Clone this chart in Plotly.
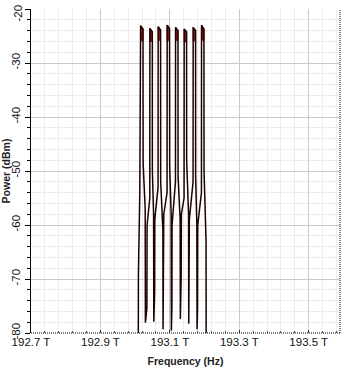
import plotly.graph_objects as go

# ---- data ----
freq_thz = [
    193.0088, 193.0094, 193.0134,
    193.0157, 193.0191, 193.0226,
    193.0229, 193.0289, 193.0295, 193.0338, 193.0344, 193.0422,
    193.0424, 193.0459, 193.0494,
    193.0496, 193.0531, 193.0537, 193.0560, 193.0565, 193.0660,
    193.0663, 193.0698, 193.0732,
    193.0735, 193.0799, 193.0804, 193.0819, 193.0824, 193.0919,
    193.0922, 193.0957, 193.0991,
    193.0994, 193.1037, 193.1043, 193.1058, 193.1063, 193.1161,
    193.1164, 193.1199, 193.1233,
    193.1236, 193.1296, 193.1302, 193.1325, 193.1331, 193.1409,
    193.1412, 193.1446, 193.1481,
    193.1483, 193.1538, 193.1544, 193.1555, 193.1561, 193.1668,
    193.1671, 193.1705, 193.1740,
    193.1742, 193.1777, 193.1783, 193.1797, 193.1803, 193.1909,
    193.1912, 193.1947, 193.1981,
    193.1984, 193.2042, 193.2047,
]
power_dbm = [
    -95, -69, -54,
    -23.1, -23.4, -23.7,
    -48.5, -57, -78.1, -75.5, -60, -55,
    -23.6, -23.9, -24.2,
    -50, -58, -77.9, -72.5, -59, -53,
    -23.3, -23.6, -23.9,
    -52, -61, -79.3, -70.5, -58, -54,
    -23.0, -23.3, -23.7,
    -49, -58, -79.6, -75.5, -60, -52,
    -23.4, -23.7, -24.0,
    -51, -59, -77.4, -69.6, -58, -55,
    -23.7, -23.9, -24.2,
    -48, -58, -78.3, -71, -59, -52,
    -23.4, -23.7, -24.0,
    -51, -60, -79.3, -75.5, -60, -54,
    -23.0, -23.4, -23.8,
    -50, -63, -95,
]

# channel peak tops (left edge, right edge, top level, bottom of the red cap)
chan_left_thz = [193.0157, 193.0424, 193.0663, 193.0922, 193.1164, 193.1412, 193.1671, 193.1912]
chan_right_thz = [193.0226, 193.0494, 193.0732, 193.0991, 193.1233, 193.1481, 193.1740, 193.1981]
chan_peak_dbm = [-23.1, -23.6, -23.3, -23.0, -23.4, -23.7, -23.4, -23.0]
cap_bottom_dbm = [-25.9, -26.0, -25.8, -25.9, -25.8, -26.1, -25.9, -25.8]

x_tickvals = [192.7, 192.9, 193.1, 193.3, 193.5]
x_ticktext = ["192.7 T", "192.9 T", "193.1 T", "193.3 T", "193.5 T"]
y_tickvals = [-80, -70, -60, -50, -40, -30, -20]
y_ticktext = ["-80", "-70", "-60", "-50", "-40", "-30", ""]   # top label drawn below
y_top_label = "-20"

# ---- build the red caps from the arrays ----
cap_x, cap_y = [], []
for l, r, p, b in zip(chan_left_thz, chan_right_thz, chan_peak_dbm, cap_bottom_dbm):
    cap_x += [l, r, r, l, l, None]
    cap_y += [p, p - 0.6, b, b, p, None]

fig = go.Figure()
fig.add_trace(go.Scatter(
    x=cap_x, y=cap_y, mode="lines", fill="toself",
    fillcolor="#8e1b1b", line=dict(color="#8e1b1b", width=1),
    hoverinfo="skip", showlegend=False))
fig.add_trace(go.Scatter(
    x=freq_thz, y=power_dbm, mode="lines",
    line=dict(color="#1e0000", width=1.5),
    showlegend=False))

font_family = "Liberation Sans, Arial, sans-serif"

fig.update_layout(
    width=346, height=370,
    margin=dict(l=31, r=6, t=9, b=37),
    paper_bgcolor="white", plot_bgcolor="white",
    font=dict(family=font_family, color="#111111"),
    showlegend=False,
    xaxis=dict(
        range=[192.7, 193.59],
        tickmode="array", tickvals=x_tickvals, ticktext=x_ticktext,
        tickfont=dict(size=11.5, color="#111111"),
        ticklabeloverflow="allow",
        showgrid=True, gridcolor="#c9c9c9", gridwidth=1,
        zeroline=False, showline=False,
        ticks="inside", ticklen=3, tickcolor="#333333",
        minor=dict(dtick=0.04, tick0=192.7, showgrid=True, gridcolor="#ececec",
                   ticks="inside", ticklen=2, tickcolor="#555555"),
        title=dict(text="<b>Frequency (Hz)</b>", font=dict(size=10.5, color="#222222"),
                   standoff=11),
        automargin=False,
    ),
    yaxis=dict(
        range=[-80, -20],
        tickmode="array", tickvals=y_tickvals, ticktext=y_ticktext,
        tickangle=-90,
        tickfont=dict(size=11.5, color="#111111"),
        ticklabeloverflow="allow",
        showgrid=True, gridcolor="#c9c9c9", gridwidth=1,
        zeroline=False, showline=True, linecolor="black", linewidth=1,
        ticks="outside", ticklen=5, tickcolor="black",
        minor=dict(dtick=2, tick0=-80, showgrid=True, gridcolor="#ececec",
                   ticks="outside", ticklen=3, tickcolor="black"),
        title=dict(text="<b>Power (dBm)</b>", font=dict(size=10.5, color="#222222"),
                   standoff=2),
        automargin=False,
    ),
    annotations=[
        dict(text=y_top_label, xref="paper", yref="paper", x=0, y=1,
             xanchor="right", yanchor="top", xshift=-6, yshift=6,
             textangle=-90, showarrow=False,
             font=dict(size=11.5, color="#111111", family=font_family)),
    ],
    shapes=[
        dict(type="line", xref="paper", yref="paper", x0=0, x1=1, y0=0, y1=0,
             line=dict(color="black", width=1, dash="1px,1px")),
        dict(type="line", xref="paper", yref="paper", x0=1, x1=1, y0=0, y1=1,
             line=dict(color="black", width=1, dash="1px,1px")),
    ],
)

fig.write_html("out.html")
